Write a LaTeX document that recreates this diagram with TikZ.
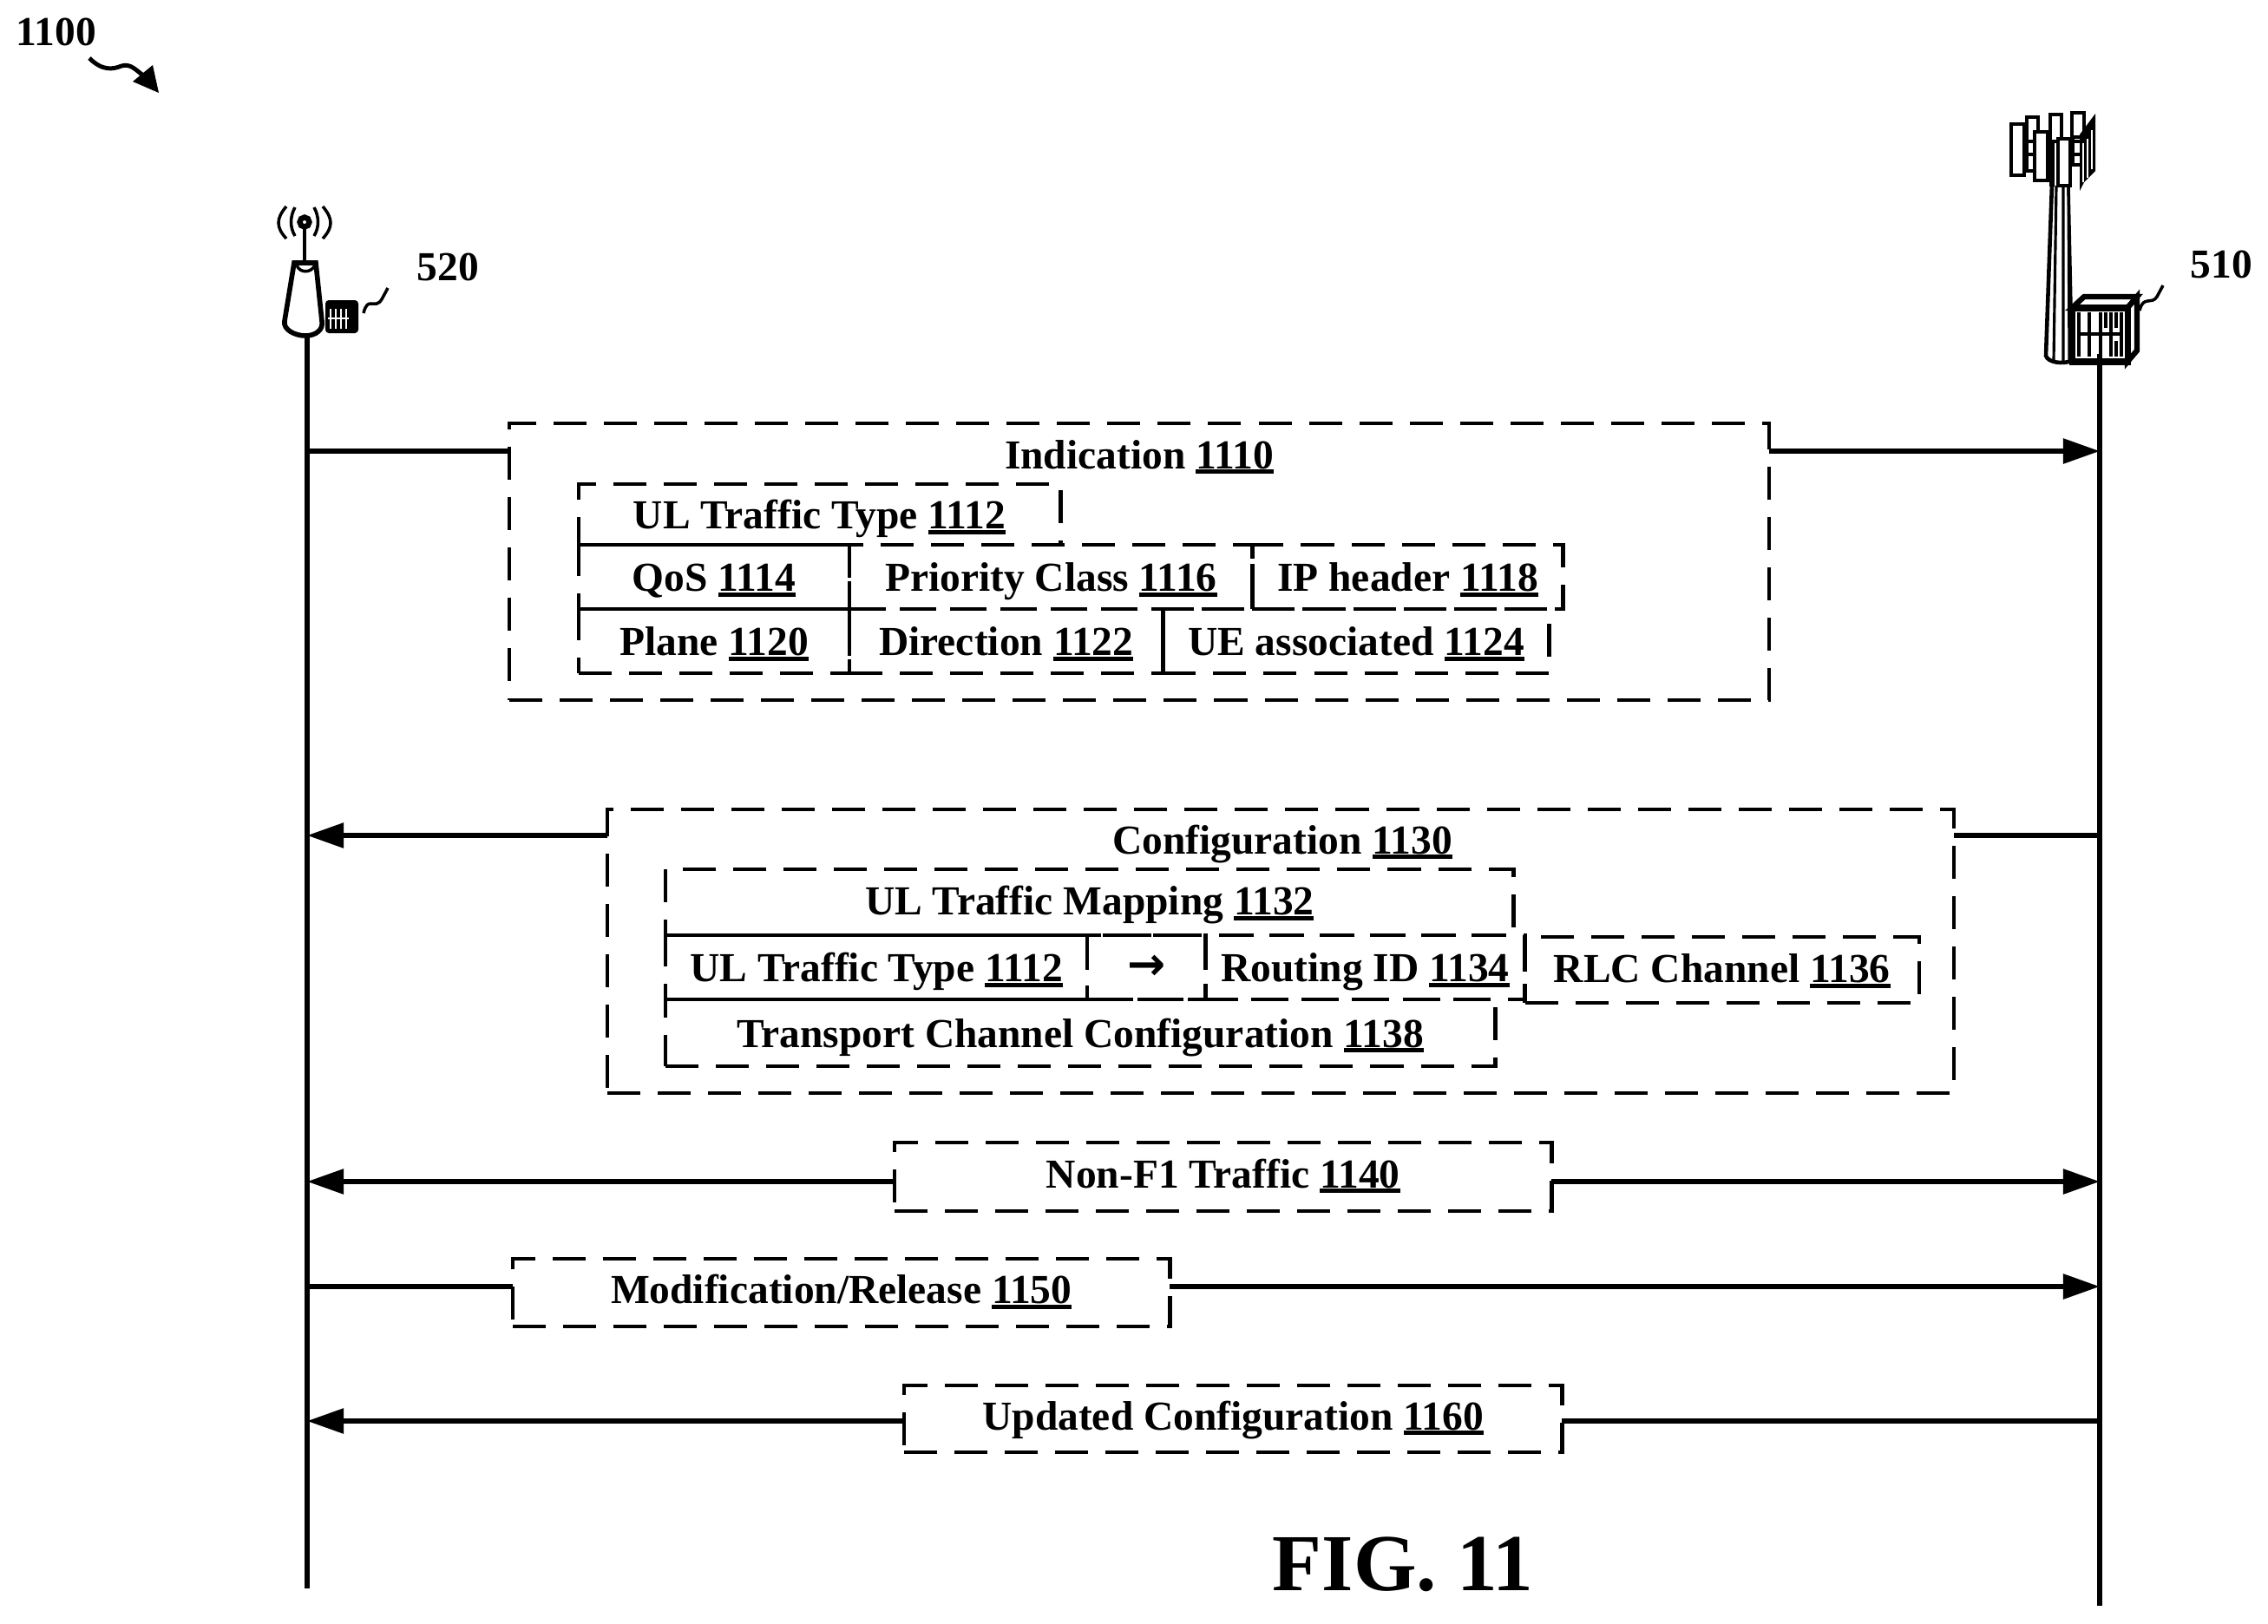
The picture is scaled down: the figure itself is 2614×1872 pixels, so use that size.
\documentclass[tikz,border=0pt]{standalone}
\usepackage{fontspec}
\setmainfont{Liberation Serif}[BoldFont={Liberation Serif Bold}]
\newfontfamily\arrowfont{DejaVu Sans}
\usetikzlibrary{arrows.meta,positioning}
\newcommand{\refnum}[1]{\setbox0=\hbox{#1}\rlap{\rule[-1.7pt]{\wd0}{1.4pt}}\box0}

\begin{document}
\begin{tikzpicture}[x=0.01cm,y=-0.01cm]
      \tikzstyle{lifeline}=[line width=1.5pt]
      \tikzstyle{msg}=[line width=1.6pt,>={Triangle[length=12pt,width=8pt]}]
      \tikzstyle{field}=[rectangle,draw=black,line width=1.25pt,dash pattern=on 0.38cm off 0.2cm,outer sep=0pt,inner sep=0pt,
        font=\fontsize{13.5pt}{15pt}\selectfont\bfseries,text height=9.4pt,text depth=0pt,minimum height=0.74cm]
      \tikzstyle{group}=[field,fill=none]
      \tikzstyle{msgfield}=[field,text height=7.2pt]
      \tikzstyle{caption}=[font=\fontsize{13.5pt}{15pt}\selectfont\bfseries,inner sep=0pt,text height=9pt,text depth=0pt]
      \tikzstyle{icon}=[line width=1pt]

      \useasboundingbox (0,0) rectangle (2614,1872);

      % labels
      \node[caption,anchor=base west](fignum) at (18,52){1100};
      \node[caption,anchor=base west](gnblabel) at (480,323){520};
      \node[caption,anchor=base west](donorlabel) at (2524,320){510};
      \node[font=\fontsize{26.5pt}{30pt}\selectfont\bfseries,inner sep=0pt,anchor=base](figtitle) at (1617,1833){FIG. 11};

      % pointer under the figure number
      \fill (176,75) -- (153,94) -- (183,107) -- cycle;
      \draw[line width=1.4pt] (103,67) .. controls (118,82) and (130,80) .. (140,76) .. controls (150,73) and (156,80) .. (165,87);

      % small base station
      \begin{scope}
        \draw[line width=1.8pt] (351,256) circle (0.055cm);
        \draw[line width=1.4pt] (351,262) -- (351,301);
        \draw[icon] (340,239) .. controls (334,250) and (334,262) .. (340,272);
        \draw[icon] (330,238) .. controls (318,252) and (318,262) .. (330,275);
        \draw[icon] (362,239) .. controls (368,250) and (368,262) .. (362,272);
        \draw[icon] (372,238) .. controls (384,252) and (384,262) .. (372,275);
        \draw[line width=1.6pt] (339,303) -- (328,370) .. controls (326,380) and (340,387) .. (352,387)
          .. controls (364,387) and (373,380) .. (371,370) -- (364,303) -- cycle;
        \draw[line width=1pt] (342,306) .. controls (346,315) and (358,315) .. (363,306);
        \fill[rounded corners=0.04cm] (375,346) rectangle (413,384);
        \draw[white,line width=0.4pt] (381,356) -- (381,379) (387,356) -- (387,379) (393,356) -- (393,379) (399,356) -- (399,379) (378,367) -- (402,367);
        \draw[icon] (419,361) .. controls (424,340) and (432,358) .. (440,345) -- (447,332);
      \end{scope}

      % donor tower
      \begin{scope}
        \draw[icon] (2318,143) rectangle (2333,202);
        \draw[icon] (2336,135) rectangle (2349,197);
        \draw[icon,fill=white] (2345,152) rectangle (2360,208);
        \draw[icon] (2363,132) rectangle (2376,163);
        \draw[icon] (2388,130) rectangle (2402,158);
        \draw[line width=1.4pt] (2333,163) -- (2345,163) (2333,178) -- (2345,178) (2388,163) -- (2400,163) (2388,178) -- (2400,178) (2388,190) -- (2400,190);
        \draw[line width=1.5pt] (2365,165) -- (2365,215) (2388,158) -- (2388,190);
        \fill (2397,155) -- (2415,131) -- (2415,197) -- (2402,210) -- (2397,220) -- cycle;
        \draw[white,line width=0.3pt] (2401,165) -- (2401,210) (2406,160) -- (2406,205) (2411,150) -- (2411,195);
        \draw[icon,fill=white] (2372,160) rectangle (2386,214);
        \draw[line width=1.3pt] (2365,212) -- (2358,410) .. controls (2360,418) and (2378,420) .. (2387,416);
        \draw[line width=0.9pt] (2370,214) -- (2367,415) (2378,214) -- (2378,418) (2384,214) -- (2385,416);
        \draw[line width=1pt] (2384,214) -- (2387,355);
        \draw[line width=1.8pt,fill=white] (2388,355) -- (2402,342) -- (2463,342) -- (2452,355) -- cycle;
        \draw[line width=1.8pt,fill=white] (2452,355) -- (2463,342) -- (2463,404) -- (2452,417) -- cycle;
        \draw[line width=2pt,fill=white] (2388,355) rectangle (2452,417);
        \draw[line width=1.4pt] (2396,360) -- (2396,411) (2408,360) -- (2408,411) (2421,360) -- (2421,411) (2433,360) -- (2433,411) (2445,360) -- (2445,411) (2427,360) -- (2427,378) (2439,360) -- (2439,378) (2439,393) -- (2439,411) (2394,385) -- (2447,385);
        \draw[icon] (2466,358) .. controls (2470,340) and (2480,352) .. (2486,342) -- (2493,329);
      \end{scope}

      % lifelines
      \coordinate (gnbtop) at (354,388);
      \coordinate (gnbend) at (354,1831);
      \coordinate (donortop) at (2420,408);
      \coordinate (donorend) at (2420,1851);
      \draw[lifeline] (gnbtop) -- (gnbend);
      \draw[lifeline] (donortop) -- (donorend);

      % indication
      \begin{scope}
        \node[group,anchor=north west,minimum width=14.51cm,minimum height=3.19cm](ind) at (587,488){};
        \node[caption,anchor=base](indtxt) at (1313,540){Indication \refnum{1110}};

        \node[field,anchor=north west,minimum width=5.55cm,minimum height=0.70cm](ultype) at (667,558){UL Traffic Type \refnum{1112}};

        \node[field,anchor=north west,minimum width=3.12cm](qos) at (ultype.south west){QoS \refnum{1114}};
        \node[field,minimum width=4.64cm](prio)[right=0pt of qos]{Priority Class \refnum{1116}};
        \node[field,minimum width=3.58cm](iphdr)[right=0pt of prio]{IP header \refnum{1118}};

        \node[field,anchor=north west,minimum width=3.12cm](plane) at (qos.south west){Plane \refnum{1120}};
        \node[field,minimum width=3.61cm](dir)[right=0pt of plane]{Direction \refnum{1122}};
        \node[field,minimum width=4.45cm](ueassoc)[right=0pt of dir]{UE associated \refnum{1124}};
      \end{scope}

      % configuration
      \begin{scope}
        \node[group,anchor=north west,minimum width=15.51cm,minimum height=3.27cm](conf) at (700,933){};
        \node[caption,anchor=base](conftxt) at (1478,984){Configuration \refnum{1130}};

        \node[field,anchor=north west,minimum width=9.77cm,minimum height=0.76cm,text height=8.4pt](map) at (767,1002){UL Traffic Mapping \refnum{1132}};

        \node[field,anchor=north west,minimum width=4.86cm](ultype2) at (map.south west){UL Traffic Type \refnum{1112}};
        \node[field,minimum width=1.36cm](maparrow)[right=0pt of ultype2]{};
        \node[font=\arrowfont\fontsize{15pt}{18pt}\selectfont\bfseries,inner sep=0pt](maparrowtxt) at (maparrow.center){→};
        \node[field,minimum width=3.68cm](route)[right=0pt of maparrow]{Routing ID \refnum{1134}};
        \node[field,minimum width=4.54cm,minimum height=0.76cm,text height=8.4pt](rlc)[right=0pt of route,yshift=-0.03cm]{RLC Channel \refnum{1136}};

        \node[field,anchor=north west,minimum width=9.56cm,minimum height=0.77cm](trans) at (ultype2.south west){Transport Channel Configuration \refnum{1138}};
      \end{scope}

      % remaining messages
      \node[msgfield,anchor=north west,minimum width=7.57cm,minimum height=0.79cm](nonf) at (1031,1317){Non-F1 Traffic \refnum{1140}};
      \node[msgfield,anchor=north west,minimum width=7.57cm,minimum height=0.78cm](modrel) at (591,1451){Modification/Release \refnum{1150}};
      \node[msgfield,anchor=north west,minimum width=7.58cm,minimum height=0.77cm](upd) at (1042,1597){Updated Configuration \refnum{1160}};

      \coordinate (gl1) at (354,520);
      \coordinate (dl1) at (2420,520);
      \coordinate (gl2) at (354,963);
      \coordinate (dl2) at (2420,963);
      \coordinate (gl3) at (354,1362);
      \coordinate (dl3) at (2420,1362);
      \coordinate (gl4) at (354,1483);
      \coordinate (dl4) at (2420,1483);
      \coordinate (gl5) at (354,1638);
      \coordinate (dl5) at (2420,1638);

      \path[msg,->]
      (gl1 -| ind.east) edge (dl1)
      (gl2 -| conf.west) edge (gl2)
      (gl3 -| nonf.west) edge (gl3)
      (gl3 -| nonf.east) edge (dl3)
      (gl4 -| modrel.east) edge (dl4)
      (gl5 -| upd.west) edge (gl5);

      \path[msg]
      (gl1) edge (gl1 -| ind.west)
      (dl2) edge (dl2 -| conf.east)
      (gl4) edge (gl4 -| modrel.west)
      (dl5) edge (dl5 -| upd.east);
\end{tikzpicture}
\end{document}
